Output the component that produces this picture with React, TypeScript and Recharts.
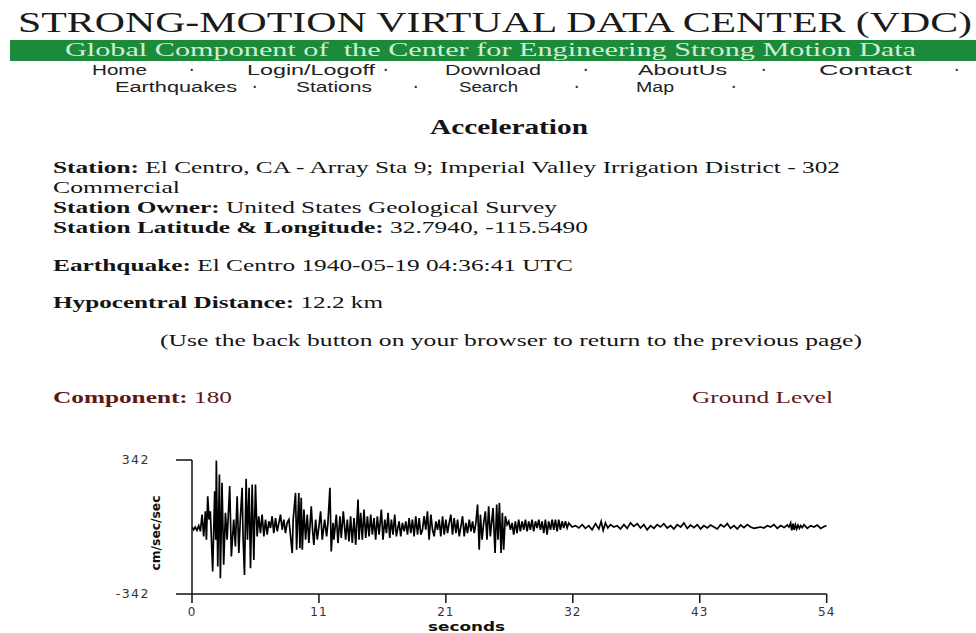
import React from 'react';
import { LineChart, Line, XAxis, YAxis, Label } from 'recharts';

// ---- seismogram samples (seconds, cm/sec/sec) ----
const times: number[] = [
  0, 0.14, 0.28, 0.42, 0.57, 0.71, 0.85, 0.99, 1.13, 1.22, 1.33, 1.44, 1.55, 1.75, 1.92, 2.01, 2.06, 2.18, 2.32, 2.4,
  2.54, 2.68, 2.83, 2.97, 3.19, 3.33, 3.53, 3.67, 3.82, 3.96, 4.1, 4.24, 4.32, 4.44, 4.58, 4.69, 4.83, 4.95, 5.09, 5.23,
  5.37, 5.51, 5.65, 5.79, 5.93, 6.08, 6.22, 6.36, 6.5, 6.64, 6.78, 6.92, 7.07, 7.21, 7.35, 7.49, 7.63, 7.77, 7.91, 8.05,
  8.2, 8.34, 8.48, 8.56, 8.76, 8.85, 9.04, 9.13, 9.24, 9.33, 9.47, 9.61, 9.75, 9.89, 10.09, 10.2, 10.31, 10.46, 10.6, 10.74,
  10.88, 11.02, 11.22, 11.39, 11.5, 11.67, 11.78, 11.93, 12.01, 12.21, 12.35, 12.52, 12.63, 12.8, 13.0, 13.14, 13.28, 13.42, 13.56, 13.71,
  13.85, 14.05, 14.13, 14.27, 14.41, 14.55, 14.7, 14.84, 14.98, 15.12, 15.26, 15.4, 15.54, 15.68, 15.83, 16.02, 16.16, 16.31, 16.45, 16.59,
  16.73, 16.87, 17.01, 17.15, 17.29, 17.52, 17.66, 17.8, 17.95, 18.09, 18.23, 18.37, 18.51, 18.65, 18.79, 18.93, 19.08, 19.22, 19.36, 19.5,
  19.64, 19.78, 19.92, 20.06, 20.21, 20.35, 20.49, 20.63, 20.77, 20.91, 21.05, 21.2, 21.34, 21.48, 21.62, 21.76, 21.9, 22.04, 22.18, 22.33,
  22.47, 22.61, 22.75, 22.89, 23.03, 23.17, 23.31, 23.46, 23.6, 23.74, 23.88, 24.02, 24.16, 24.3, 24.4, 24.54, 24.68, 24.82, 24.96, 25.1,
  25.24, 25.47, 25.64, 25.78, 25.89, 26.01, 26.15, 26.26, 26.37, 26.51, 26.66, 26.8, 26.94, 27.08, 27.22, 27.36, 27.5, 27.64, 27.78, 27.93,
  28.07, 28.21, 28.35, 28.49, 28.63, 28.77, 28.91, 29.06, 29.2, 29.34, 29.48, 29.62, 29.76, 29.9, 30.04, 30.18, 30.33, 30.47, 30.61, 30.75,
  30.89, 31.03, 31.17, 31.31, 31.45, 31.6, 31.74, 31.88, 32.16, 32.44, 32.73, 33.01, 33.29, 33.57, 33.85, 34.14, 34.42, 34.62, 34.79, 34.98,
  35.18, 35.41, 35.69, 35.97, 36.25, 36.54, 36.82, 37.1, 37.38, 37.67, 37.95, 38.23, 38.51, 38.8, 39.08, 39.36, 39.64, 39.92, 40.21, 40.49,
  40.77, 41.05, 41.34, 41.62, 41.9, 42.18, 42.47, 42.75, 43.03, 43.31, 43.59, 43.88, 44.16, 44.44, 44.72, 45.01, 45.29, 45.57, 45.85, 46.14,
  46.42, 46.7, 46.98, 47.26, 47.55, 47.83, 48.11, 48.39, 48.68, 48.96, 49.24, 49.52, 49.81, 50.09, 50.37, 50.51, 50.65, 50.74, 50.85, 50.94,
  51.05, 51.16, 51.27, 51.39, 51.5, 51.64, 51.78, 52.06, 52.35, 52.63, 52.91, 53.19, 53.48, 53.7,
];

const accel: number[] = [
  0, -14, 0, -17, 7, -22, 63, -48, 80, -65, 157, 38, 80, -227, 183, -65, 340, -202, 268, -262,
  226, -193, 72, -65, 209, -150, 38, -99, 157, -133, 55, 200, -48, -245, 246, -65, 200, -210, 217, -168,
  217, -48, 55, -31, 63, -48, 38, -39, 29, -5, 55, -31, 46, -22, 21, 63, -14, 38, -31, 21,
  38, -48, -133, 38, 174, -116, 174, -108, 149, -116, 89, -65, 63, -82, 106, -14, -91, 38, -65, 3,
  80, -65, 38, -48, 21, 200, -125, 21, -65, 63, -82, 55, -56, 80, -65, 38, -74, 55, -82, 46,
  -91, 140, -65, 72, -65, 89, -56, 55, -48, 63, -39, 46, -65, 55, -39, 89, -65, 38, -31, 72,
  -56, 38, -39, 63, -48, 29, -48, 21, -22, 29, -39, 46, -31, 38, -48, 55, -39, 46, -39, -14,
  55, -14, 80, -65, 63, -14, -48, 29, -14, 38, -48, 55, -39, 38, -31, 21, 63, -39, 46, -31,
  38, -48, 3, 55, -48, 21, -31, 38, -22, 29, -31, 21, 115, -116, 63, -65, 21, 80, -65, 106,
  -48, 97, -133, 115, -65, 123, -133, 72, -116, 55, 12, 29, -14, 21, -39, 29, -31, 38, -22, 29,
  -14, 38, -22, 29, -14, 38, -22, 29, -5, 38, -14, 29, -31, 38, -39, 29, -14, 38, -14, 38,
  -22, 38, -14, 29, -5, 29, -5, 21, 0, 7, -5, 12, -7, 7, -14, 17, -10, 29, -17, 21,
  -5, 12, 0, 7, -10, 12, -7, 21, 3, 17, -5, 12, -14, 7, -7, 12, 0, 17, -5, 7,
  -10, 12, 0, 21, -7, 10, -3, 12, -10, 7, -5, 10, 0, -10, 12, 0, 17, -7, 7, -10,
  10, -3, 12, 0, -7, -3, 0, -5, 7, 0, 12, -7, 7, -3, 10, 0, 21, -17, 17, -14,
  12, -10, 10, -7, 7, -3, 12, -7, 7, 0, 10, -7, 3, 7,
];

const xTicks: number[] = [0, 10.74, 21.48, 32.22, 42.96, 53.7];
const yTicks: number[] = [-342, 342];

const data = times.map((t, i) => ({ t, a: accel[i] }));

// ---- page text ----
const navRow1: [string, number, number][] = [
  ['Home', 92, 55], ['Login/Logoff', 247, 128], ['Download', 445, 96], ['AboutUs', 638, 89], ['Contact', 819, 93],
];
const navDots1: number[] = [192, 386, 586, 764, 957];
const navRow2: [string, number, number][] = [
  ['Earthquakes', 115, 122], ['Stations', 296, 76], ['Search', 459, 59], ['Map', 636, 38],
];
const navDots2: number[] = [255, 416, 577, 734];

const SERIF = '"Liberation Serif", "Times New Roman", serif';
const SANS = '"Liberation Sans", Arial, sans-serif';
const AX = '"DejaVu Sans", sans-serif';

const Line2 = ({ x, y, w, size, fill = '#141414', bold, rest }: any) => (
  <text x={x} y={y} textLength={w} lengthAdjust="spacingAndGlyphs" fontSize={size} fontFamily={SERIF} fill={fill}>
    <tspan fontWeight="bold">{bold}</tspan>
    <tspan>{rest}</tspan>
  </text>
);

const YLabel = (props: any) => {
  const vb = props.viewBox || {};
  const cx = vb.x + 56;
  const cy = vb.y + vb.height / 2 + 6;
  return (
    <text x={cx} y={cy} transform={`rotate(-90 ${cx} ${cy})`} textAnchor="middle" dominantBaseline="central"
      fontFamily={AX} fontWeight="bold" fontSize={12} fill="#111" textLength={75} lengthAdjust="spacingAndGlyphs">
      cm/sec/sec
    </text>
  );
};

const XLabel = (props: any) => {
  const vb = props.viewBox || {};
  const left = vb.x + 236;
  const base = vb.y + 37;
  return (
    <text x={left} y={base} fontFamily={AX} fontWeight="bold" fontSize={12} fill="#111" textLength={77} lengthAdjust="spacingAndGlyphs">
      seconds
    </text>
  );
};

export default function App() {
  return (
    <div style={{ position: 'absolute', left: 0, top: 0, width: 976, height: 633, background: '#fff', overflow: 'hidden' }}>
      <svg width={976} height={633} style={{ position: 'absolute', left: 0, top: 0 }}>
        <text x={18} y={32} textLength={954} lengthAdjust="spacingAndGlyphs" fontSize={29} fontFamily={SERIF} fill="#1a1a1a">
          STRONG-MOTION VIRTUAL DATA CENTER (VDC)
        </text>
        <rect x={10} y={40} width={966} height={21} fill="#1b8a3b" />
        <text x={65} y={56} textLength={851} lengthAdjust="spacingAndGlyphs" fontSize={18.5} fontFamily={SERIF} fill="#d2eed2" xmlSpace="preserve">
          Global Component of  the Center for Engineering Strong Motion Data
        </text>
        {navRow1.map(([s, x, w]) => (
          <text key={s} x={x} y={75} textLength={w} lengthAdjust="spacingAndGlyphs" fontSize={14} fontFamily={SANS} fill="#222">{s}</text>
        ))}
        {navDots1.map((x) => (
          <text key={'d1' + x} x={x} y={75} textAnchor="middle" fontSize={14} fontWeight="bold" fontFamily={SANS} fill="#333">·</text>
        ))}
        {navRow2.map(([s, x, w]) => (
          <text key={s} x={x} y={92} textLength={w} lengthAdjust="spacingAndGlyphs" fontSize={14} fontFamily={SANS} fill="#222">{s}</text>
        ))}
        {navDots2.map((x) => (
          <text key={'d2' + x} x={x} y={92} textAnchor="middle" fontSize={14} fontWeight="bold" fontFamily={SANS} fill="#333">·</text>
        ))}
        <text x={430} y={134} textLength={158} lengthAdjust="spacingAndGlyphs" fontSize={21} fontWeight="bold" fontFamily={SERIF} fill="#141414">
          Acceleration
        </text>
        <Line2 x={53} y={173} w={787} size={17.5} bold="Station:" rest=" El Centro, CA - Array Sta 9; Imperial Valley Irrigation District - 302" />
        <text x={53} y={193} textLength={127} lengthAdjust="spacingAndGlyphs" fontSize={17.5} fontFamily={SERIF} fill="#141414">Commercial</text>
        <Line2 x={53} y={213} w={504} size={17.5} bold="Station Owner:" rest=" United States Geological Survey" />
        <Line2 x={53} y={233} w={535} size={17.5} bold="Station Latitude & Longitude:" rest=" 32.7940, -115.5490" />
        <Line2 x={53} y={271} w={520} size={17.5} bold="Earthquake:" rest=" El Centro 1940-05-19 04:36:41 UTC" />
        <Line2 x={53} y={308} w={330} size={17.5} bold="Hypocentral Distance:" rest=" 12.2 km" />
        <text x={160} y={346} textLength={702} lengthAdjust="spacingAndGlyphs" fontSize={17.5} fontFamily={SERIF} fill="#141414">
          (Use the back button on your browser to return to the previous page)
        </text>
        <Line2 x={53} y={403} w={179} size={17.5} fill="#5e1616" bold="Component:" rest=" 180" />
        <text x={692} y={403} textLength={141} lengthAdjust="spacingAndGlyphs" fontSize={17.5} fontFamily={SERIF} fill="#5e1616">Ground Level</text>
      </svg>

      <div style={{ position: 'absolute', left: 100, top: 440 }}>
        <LineChart width={760} height={193} data={data} margin={{ top: 20, right: 33.3, bottom: 0, left: 0 }}>
          <XAxis
            dataKey="t"
            type="number"
            domain={[0, 53.7]}
            ticks={xTicks}
            tickFormatter={(v: number) => String(Math.round(v))}
            interval={0}
            height={39}
            tickSize={9}
            tickMargin={4}
            stroke="#111"
            strokeWidth={1.5}
            tick={{ fontFamily: AX, fontSize: 12, fill: '#333', letterSpacing: 1 }}
            allowDataOverflow
          >
            <Label content={<XLabel />} />
          </XAxis>
          <YAxis
            type="number"
            domain={[-342, 342]}
            ticks={yTicks}
            interval={0}
            width={92}
            tickSize={16}
            tickMargin={26}
            stroke="#111"
            strokeWidth={1.5}
            tick={{ fontFamily: AX, fontSize: 12.5, fill: '#333', letterSpacing: 1.5 }}
            allowDataOverflow
          >
            <Label content={<YLabel />} />
          </YAxis>
          <Line type="linear" dataKey="a" stroke="#000" strokeWidth={1.7} dot={false} isAnimationActive={false} />
        </LineChart>
      </div>
    </div>
  );
}
